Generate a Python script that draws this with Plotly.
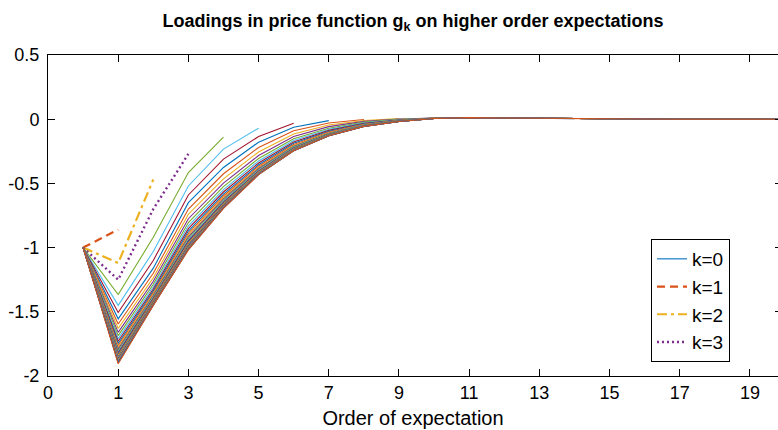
import plotly.graph_objects as go

# Values of each line k (k = 0..36) at a given order of expectation j.
# Array order_j lists the loading of lines k = j, j+1, ..., 36 at order j.
order0 = [-1.0, -1.0, -1.0, -1.0, -1.0, -1.0, -1.0, -1.0, -1.0, -1.0,
          -1.0, -1.0, -1.0, -1.0, -1.0, -1.0, -1.0, -1.0, -1.0, -1.0,
          -1.0, -1.0, -1.0, -1.0, -1.0, -1.0, -1.0, -1.0, -1.0, -1.0,
          -1.0, -1.0, -1.0, -1.0, -1.0, -1.0, -1.0]
order1 = [-0.86, -1.12, -1.25, -1.365, -1.45, -1.505, -1.555, -1.595, -1.63, -1.66,
          -1.686, -1.709, -1.729, -1.747, -1.763, -1.777, -1.790, -1.801, -1.811, -1.820,
          -1.828, -1.836, -1.843, -1.849, -1.855, -1.860, -1.865, -1.870, -1.874, -1.878,
          -1.882, -1.886, -1.890, -1.894, -1.898, -1.905]
order2 = [-0.47, -0.70, -0.92, -1.03, -1.10, -1.16, -1.20, -1.235, -1.262, -1.285,
          -1.305, -1.322, -1.337, -1.350, -1.361, -1.371, -1.380, -1.388, -1.395, -1.401,
          -1.407, -1.412, -1.417, -1.421, -1.425, -1.428, -1.431, -1.434, -1.437, -1.440,
          -1.442, -1.444, -1.446, -1.448, -1.450]
order3 = [-0.27, -0.415, -0.52, -0.59, -0.65, -0.70, -0.74, -0.775, -0.805, -0.83,
          -0.852, -0.871, -0.888, -0.903, -0.916, -0.928, -0.938, -0.947, -0.955, -0.962,
          -0.969, -0.975, -0.980, -0.985, -0.989, -0.993, -0.997, -1.000, -1.003, -1.006,
          -1.009, -1.012, -1.015, -1.018]
order4 = [-0.14, -0.233, -0.311, -0.376, -0.425, -0.465, -0.498, -0.525, -0.548, -0.567,
          -0.584, -0.598, -0.610, -0.621, -0.631, -0.639, -0.646, -0.652, -0.657, -0.662,
          -0.666, -0.670, -0.673, -0.676, -0.679, -0.681, -0.683, -0.685, -0.687, -0.689,
          -0.691, -0.693, -0.695]
order5 = [-0.07, -0.135, -0.179, -0.22, -0.255, -0.283, -0.306, -0.325, -0.341, -0.355,
          -0.366, -0.376, -0.384, -0.391, -0.397, -0.402, -0.406, -0.410, -0.413, -0.416,
          -0.418, -0.420, -0.422, -0.424, -0.425, -0.426, -0.427, -0.428, -0.429, -0.430,
          -0.431, -0.432]
order6 = [-0.031, -0.062, -0.09, -0.115, -0.135, -0.152, -0.166, -0.178, -0.188, -0.197,
          -0.204, -0.210, -0.215, -0.220, -0.224, -0.227, -0.230, -0.232, -0.234, -0.236,
          -0.238, -0.239, -0.240, -0.241, -0.242, -0.243, -0.244, -0.245, -0.245, -0.246,
          -0.246]
order7 = [-0.011, -0.030, -0.045, -0.058, -0.070, -0.079, -0.087, -0.094, -0.100, -0.105,
          -0.109, -0.112, -0.115, -0.117, -0.119, -0.121, -0.122, -0.123, -0.124, -0.125,
          -0.126, -0.126, -0.127, -0.127, -0.128, -0.128, -0.128, -0.129, -0.129, -0.129]
order8 = [-0.002, -0.010, -0.017, -0.023, -0.028, -0.032, -0.036, -0.039, -0.042, -0.044,
          -0.046, -0.048, -0.049, -0.050, -0.051, -0.052, -0.053, -0.053, -0.054, -0.054,
          -0.055, -0.055, -0.055, -0.056, -0.056, -0.056, -0.056, -0.056, -0.056]
order9 = [0.005, 0.002, -0.001, -0.004, -0.006, -0.008, -0.010, -0.011, -0.012, -0.013,
          -0.014, -0.015, -0.015, -0.016, -0.016, -0.016, -0.017, -0.017, -0.017, -0.017,
          -0.018, -0.018, -0.018, -0.018, -0.018, -0.018, -0.018, -0.018]
order10 = [0.009, 0.009, 0.008, 0.008, 0.007, 0.007, 0.007, 0.006, 0.006, 0.006,
           0.006, 0.005, 0.005, 0.005, 0.005, 0.005, 0.005, 0.005, 0.005, 0.005,
           0.005, 0.005, 0.005, 0.005, 0.005, 0.005, 0.005]
order11 = [0.010, 0.011, 0.011, 0.012, 0.012, 0.012, 0.012, 0.012, 0.012, 0.012,
           0.012, 0.012, 0.012, 0.012, 0.012, 0.012, 0.012, 0.012, 0.012, 0.012,
           0.012, 0.012, 0.012, 0.012, 0.012, 0.012]
order12 = [0.008, 0.009, 0.009, 0.009, 0.009, 0.009, 0.009, 0.009, 0.009, 0.009,
           0.009, 0.009, 0.009, 0.009, 0.009, 0.009, 0.009, 0.009, 0.009, 0.009,
           0.009, 0.009, 0.009, 0.009, 0.009]
# Shared flat tail, orders 13..20 (all lines coincide here)
tail_orders = [13, 14, 15, 16, 17, 18, 19, 20]
tail_values = [0.006, 0.004, 0.002, 0.001, 0.0, 0.0, 0.0, 0.0]

orders = [order0, order1, order2, order3, order4, order5, order6,
          order7, order8, order9, order10, order11, order12]
k_values = list(range(0, 37))

# Axis ticks (labels as printed in the figure)
x_tickvals = [-1, 1, 3, 5, 7, 9, 11, 13, 15, 17, 19]
x_ticktext = ["0", "1", "3", "5", "7", "9", "11", "13", "15", "17", "19"]
y_tickvals = [0.5, 0, -0.5, -1, -1.5, -2]
y_ticktext = ["0.5", "0", "-0.5", "-1", "-1.5", "-2"]
legend_names = ["k=0", "k=1", "k=2", "k=3"]

colors = ["#0072BD", "#D95319", "#EDB120", "#7E2F8E", "#77AC30", "#4DBEEE", "#A2142F"]

FONT = "Liberation Sans, Arial, Helvetica, sans-serif"

fig = go.Figure()
for k in k_values:
    xs, ys = [], []
    for j in range(0, min(k, 12) + 1):
        xs.append(j)
        ys.append(orders[j][k - j])
    for o, v in zip(tail_orders, tail_values):
        if o <= k:
            xs.append(o)
            ys.append(v)
    color = colors[k % 7]
    line = dict(color=color, width=1.1)
    if k == 1:
        line = dict(color=color, width=2.2, dash="8px,5px")
    elif k == 2:
        line = dict(color=color, width=2.2, dash="10px,4px,3px,4px")
    elif k == 3:
        line = dict(color=color, width=2.4, dash="2px,3px")
    fig.add_trace(go.Scatter(
        x=xs, y=ys, mode="lines", line=line,
        name=legend_names[k] if k < 4 else f"k={k}",
        showlegend=k < 4, hoverinfo="skip"))

# carrier for the right-hand tick marks
fig.add_trace(go.Scatter(x=[None], y=[None], yaxis="y2", mode="lines",
                         showlegend=False, hoverinfo="skip"))

fig.update_layout(
    width=778, height=430,
    margin=dict(l=48, r=0, t=55, b=54),
    paper_bgcolor="white", plot_bgcolor="white",
    font=dict(family=FONT, size=18, color="black"),
    title=dict(text="<b>Loadings in price function g<sub>k</sub> on higher order expectations</b>",
               x=0.5, xref="paper", y=1 - 21 / 430, yref="container",
               xanchor="center", yanchor="middle",
               font=dict(family=FONT, size=18, color="black")),
    showlegend=True,
    legend=dict(x=(651 - 48) / 730, y=(376 - 239) / 321, xanchor="left", yanchor="top",
                bgcolor="white", bordercolor="black", borderwidth=1,
                font=dict(family=FONT, size=19, color="black"),
                tracegroupgap=0),
    xaxis=dict(range=[-1, 19.8], tickvals=x_tickvals, ticktext=x_ticktext,
               ticks="inside", ticklen=7, tickcolor="black", showline=True,
               linecolor="black", linewidth=1, mirror="ticks", showgrid=False,
               zeroline=False, tickfont=dict(size=18),
               title=dict(text="Order of expectation", font=dict(size=20), standoff=9)),
    yaxis=dict(range=[-2, 0.5], tickvals=y_tickvals, ticktext=y_ticktext,
               ticks="inside", ticklen=7, tickcolor="black", showline=True,
               linecolor="black", linewidth=1, mirror=False, showgrid=False,
               zeroline=False, tickfont=dict(size=18), ticklabelstandoff=4),
    yaxis2=dict(range=[-2, 0.5], tickvals=y_tickvals, overlaying="y", side="right",
                ticks="inside", ticklen=3, tickcolor="black", showline=False,
                showticklabels=False, showgrid=False, zeroline=False),
)

fig.write_html("out.html")
